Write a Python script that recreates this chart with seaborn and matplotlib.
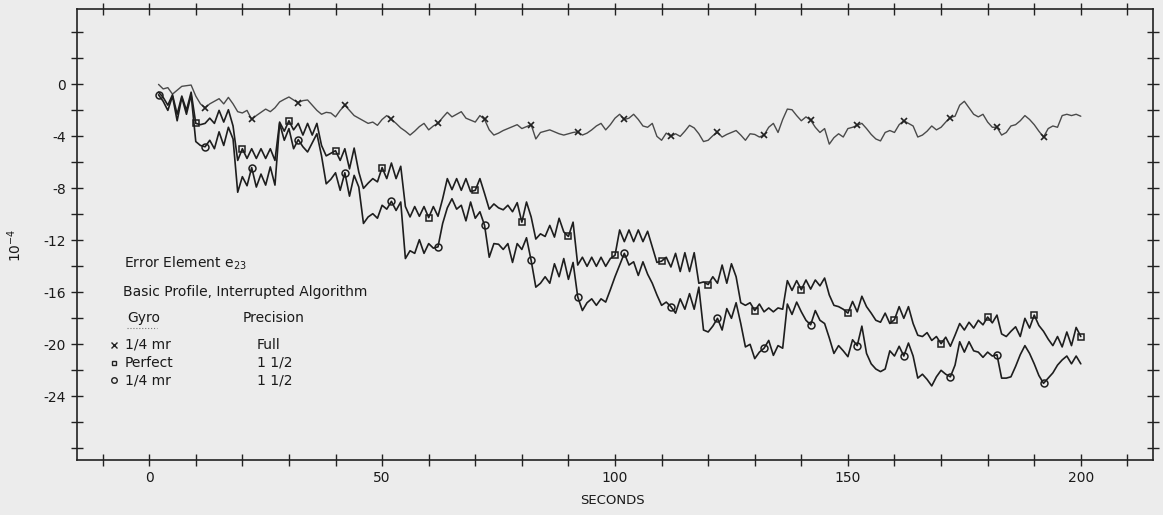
import matplotlib
matplotlib.use("Agg")
import matplotlib.pyplot as plt
import seaborn as sns
import pandas as pd

# ---------------- data ----------------
seconds = list(range(2, 201))  # one sample per second, t = 2 .. 200

gyro_quarter_full = [  # x  1/4 mr, Full precision
    0.0, -0.35, -0.25, -0.75, -0.45, -0.15, -0.1, -0.05, -0.9, -1.5,
    -1.8, -1.5, -1.3, -1.1, -1.5, -1.0, -1.5, -2.1, -2.2, -2.0,
    -2.7, -2.4, -2.15, -1.9, -2.1, -1.8, -1.35, -1.15, -0.97, -1.2,
    -1.4, -1.25, -1.2, -1.6, -2.0, -2.3, -2.15, -2.2, -2.5, -2.0,
    -1.6, -2.0, -2.4, -2.6, -2.8, -3.0, -2.9, -3.15, -2.7, -2.4,
    -2.7, -3.0, -3.35, -3.6, -3.9, -3.6, -3.25, -3.0, -3.5, -3.2,
    -3.0, -2.55, -2.15, -2.5, -2.3, -2.1, -2.6, -2.75, -2.9, -2.4,
    -2.7, -3.5, -3.9, -3.75, -3.55, -3.4, -3.25, -3.1, -3.4, -3.25,
    -3.1, -4.2, -3.7, -3.6, -3.5, -3.65, -3.8, -3.9, -3.8, -3.7,
    -3.65, -3.9, -3.75, -3.5, -3.2, -3.0, -3.5, -3.1, -2.6, -2.3,
    -2.7, -2.6, -2.3, -2.7, -3.2, -3.3, -3.0, -4.0, -4.3, -3.75,
    -4.0, -3.8, -4.0, -3.6, -3.15, -3.35, -3.8, -4.4, -4.3, -3.95,
    -3.7, -4.05, -3.85, -3.7, -3.55, -3.9, -4.3, -3.8, -3.85, -4.05,
    -3.9, -3.3, -3.0, -3.7, -2.7, -1.9, -1.95, -2.4, -2.8, -2.5,
    -2.75, -3.3, -3.7, -3.4, -4.6, -4.1, -3.8, -4.05, -3.4, -3.3,
    -3.15, -3.0, -3.4, -3.85, -4.2, -4.35, -3.7, -3.55, -3.7, -3.1,
    -2.8, -3.0, -3.2, -4.05, -3.9, -3.6, -3.2, -3.5, -3.3, -2.9,
    -2.55, -2.45, -1.6, -1.3, -1.8, -2.3, -2.5, -2.3, -2.9, -3.3,
    -3.3, -3.9, -3.7, -3.2, -3.1, -2.8, -2.4, -2.7, -3.1, -3.6,
    -4.05, -3.4, -3.2, -3.3, -2.4, -2.3, -2.4, -2.3, -2.45,
]

gyro_perfect_half = [  # square  Perfect, 1 1/2 precision
    -0.6, -1.0, -1.6, -0.8, -2.3, -0.9, -2.0, -0.6, -3.0, -3.1,
    -3.0, -2.6, -3.0, -2.0, -2.9, -1.95, -3.2, -5.85, -4.95, -5.7,
    -4.95, -5.7, -4.95, -5.7, -4.95, -5.85, -2.9, -3.6, -2.8, -3.5,
    -3.0, -3.9, -3.0, -3.9, -3.0, -4.7, -5.5, -5.3, -5.1, -5.85,
    -4.95, -6.5, -4.9, -6.75, -8.0, -7.6, -7.25, -7.5, -6.4, -7.25,
    -6.05, -7.25, -6.3, -9.4, -10.2, -9.4, -10.15, -9.4, -10.25, -9.4,
    -10.15, -8.8, -7.25, -8.1, -7.25, -8.15, -7.25, -8.25, -8.15, -7.25,
    -8.4, -9.6, -9.2, -9.5, -9.65, -9.3, -9.8, -9.1, -10.6, -9.05,
    -10.2, -11.9, -11.5, -11.7, -10.85, -11.75, -10.3, -11.35, -11.7, -10.6,
    -13.9, -13.3, -14.0, -13.3, -14.0, -13.3, -14.0, -13.4, -13.15, -11.2,
    -12.1, -11.2, -12.1, -11.2, -12.1, -11.3, -12.5, -13.7, -13.6, -13.3,
    -14.05, -13.0, -14.4, -12.95, -14.4, -12.95, -15.3, -15.2, -15.4, -14.8,
    -15.3, -13.9, -15.3, -13.8, -14.8, -16.8, -17.0, -16.8, -17.4, -16.9,
    -17.5, -17.2, -17.5, -17.2, -17.3, -15.1, -15.85, -15.1, -15.8, -15.05,
    -15.75, -15.05, -15.5, -14.9, -16.2, -17.0, -17.1, -17.3, -17.6, -16.7,
    -17.5, -16.3, -17.1, -17.6, -18.15, -18.3, -17.6, -18.4, -18.1, -17.1,
    -18.0, -17.1, -18.4, -19.3, -19.4, -19.1, -19.7, -19.4, -19.95, -19.45,
    -20.15, -19.3, -18.4, -18.9, -18.3, -18.75, -18.15, -18.5, -17.9, -18.35,
    -17.75, -19.2, -19.4, -19.0, -18.65, -19.4, -18.0, -18.75, -17.75, -18.55,
    -19.0, -19.6, -20.1, -19.4, -20.2, -19.05, -20.1, -18.7, -19.4,
]

gyro_quarter_half = [  # circle  1/4 mr, 1 1/2 precision
    -0.8, -1.3, -2.0, -0.9, -2.8, -1.0, -2.3, -0.8, -4.4, -4.7,
    -4.8, -4.3, -4.95, -3.65, -4.7, -3.3, -4.2, -8.3, -7.1, -7.8,
    -6.4, -7.9, -6.9, -7.75, -6.35, -7.75, -3.0, -4.3, -3.4, -4.95,
    -4.25, -4.8, -5.2, -4.5, -3.8, -5.5, -7.65, -7.3, -6.8, -8.15,
    -6.8, -8.6, -7.0, -7.9, -10.7, -10.2, -9.95, -10.3, -9.3, -9.6,
    -9.0, -9.7, -9.05, -13.4, -12.8, -13.0, -11.95, -13.0, -12.25, -12.6,
    -12.5, -10.7, -9.5, -8.8, -9.6, -9.3, -10.5, -9.05, -10.3, -9.8,
    -10.85, -13.3, -12.25, -12.3, -12.7, -12.25, -13.7, -12.25, -12.7, -11.8,
    -13.55, -15.6, -15.3, -14.8, -15.3, -13.8, -14.8, -13.4, -15.0, -13.7,
    -16.35, -17.4, -16.8, -16.5, -17.0, -16.5, -16.75, -15.8, -14.8, -13.9,
    -13.0, -13.9, -13.65, -14.7, -13.65, -14.6, -15.3, -16.2, -17.0, -16.75,
    -17.1, -17.6, -16.5, -17.3, -16.1, -17.3, -15.6, -18.9, -19.05, -18.6,
    -18.0, -18.9, -17.25, -18.0, -16.8, -18.4, -20.2, -20.0, -21.1, -20.6,
    -20.3, -19.7, -20.85, -20.1, -20.3, -16.9, -17.7, -16.75, -17.5, -18.15,
    -18.5, -17.4, -18.15, -18.4, -19.5, -20.7, -20.1, -20.5, -20.95, -19.65,
    -20.1, -18.6, -20.7, -21.5, -21.9, -22.1, -21.9, -20.5, -20.9, -20.15,
    -20.9, -19.9, -20.9, -22.6, -22.3, -22.7, -23.2, -22.5, -22.0, -22.3,
    -22.5, -21.6, -19.8, -20.6, -19.8, -20.5, -20.6, -21.0, -20.6, -20.9,
    -20.8, -22.6, -22.6, -22.5, -21.7, -20.8, -20.1, -20.7, -21.5, -22.4,
    -23.0, -22.6, -22.2, -21.6, -21.2, -20.9, -21.5, -20.9, -21.5,
]

x_tick_labels = ["0", "50", "100", "150", "200"]
y_tick_labels = ["0", "-4", "-8", "-12", "-16", "-20", "-24"]

legend_gyro = ["1/4 mr", "Perfect", "1/4 mr"]
legend_precision = ["Full", "1 1/2", "1 1/2"]

# ---------------- style ----------------
sns.set_style("ticks")
plt.rcParams["font.family"] = ["Liberation Sans Narrow", "DejaVu Sans"]
plt.rcParams["mathtext.default"] = "regular"

BG = "#ececec"
W, H = 1163, 515
fig = plt.figure(figsize=(W / 100, H / 100), dpi=100, facecolor=BG)
ax = fig.add_axes([77 / W, 1 - 460 / H, (1153 - 77) / W, (460 - 9) / H])
ax.set_facecolor(BG)

df = pd.DataFrame({
    "t": seconds,
    "a": gyro_quarter_full,
    "b": gyro_perfect_half,
    "c": gyro_quarter_half,
})

n = len(seconds)
sns.lineplot(data=df, x="t", y="a", ax=ax, color="#4a4a4a", lw=1.0,
             estimator=None, sort=False,
             marker="x", ms=4, mew=1.2, mec="#222222",
             markevery=list(range(10, n, 10)))
sns.lineplot(data=df, x="t", y="b", ax=ax, color="#1e1e1e", lw=1.2,
             estimator=None, sort=False,
             marker="s", ms=4, mew=1.1, mfc="none", mec="#1e1e1e",
             markevery=list(range(8, n, 10)))
sns.lineplot(data=df, x="t", y="c", ax=ax, color="#1e1e1e", lw=1.2,
             estimator=None, sort=False,
             marker="o", ms=5, mew=1.1, mfc="none", mec="#1e1e1e",
             markevery=[0] + list(range(10, n, 10)))

ax.set_xlim(-15.5, 215.5)
ax.set_ylim(-28.9, 5.8)

ax.set_xticks(range(-10, 211, 10))
ax.set_xticklabels([x_tick_labels[i // 50] if (i % 50 == 0 and 0 <= i <= 200) else ""
                    for i in range(-10, 211, 10)])
yt = list(range(-28, 5, 2))
ax.set_yticks(yt)
ax.set_yticklabels([y_tick_labels[-v // 4] if (v % 4 == 0 and -24 <= v <= 0) else ""
                    for v in yt])

ax.tick_params(axis="both", which="both", direction="inout", length=8, width=1.0,
               color="#222222", labelsize=10, labelcolor="#1a1a1a",
               top=True, right=True, pad=4)
for s in ax.spines.values():
    s.set_visible(True)
    s.set_linewidth(1.2)
    s.set_color("#222222")

ax.set_xlabel("")
ax.set_ylabel("")

fig.text(15 / W, 1 - 245 / H, "10$^{-4}$", rotation=90, ha="center", va="center",
         fontsize=10, color="#1a1a1a")
fig.text(612 / W, 1 - 500 / H, "SECONDS", ha="center", va="center",
         fontsize=9.5, color="#1a1a1a")

# ---------------- legend block ----------------
def ft(x, y, s, **kw):
    fig.text(x / W, 1 - y / H, s, ha="left", va="center", fontsize=10,
             color="#1a1a1a", **kw)

ft(124, 263, "Error Element e$_{23}$")
ft(123, 292, "Basic Profile, Interrupted Algorithm")
ft(127, 318, "Gyro")
fig.add_artist(plt.Line2D([127 / W, 157 / W], [1 - 328 / H, 1 - 328 / H],
                          color="#777777", lw=0.8, ls=":"))
ft(243, 318, "Precision")

rows_y = [345, 363, 380]
mk = [("x", "#222222", 4), ("s", "none", 3.5), ("o", "none", 4)]
for y, g, p, (m, fc, s) in zip(rows_y, legend_gyro, legend_precision, mk):
    fig.add_artist(plt.Line2D([114 / W], [1 - y / H], marker=m, ms=s, mew=1.0,
                              mfc=fc, mec="#222222", ls="none"))
    ft(125, y, g)
    ft(257, y, p)

fig.savefig("out.png", dpi=100, facecolor=BG)
